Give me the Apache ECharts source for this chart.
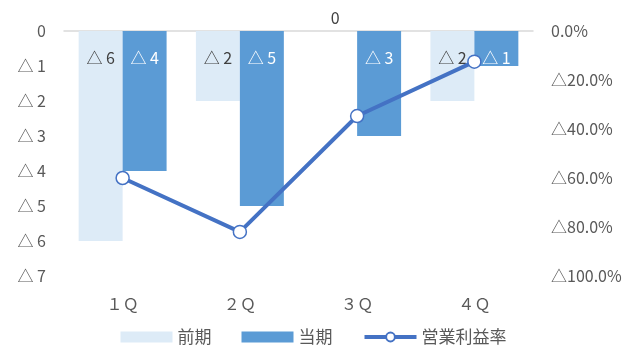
<!DOCTYPE html>
<html>
<head>
<meta charset="utf-8">
<script src="https://cdn.jsdelivr.net/npm/echarts@6/dist/echarts.min.js"></script>
<style>
  html, body { margin: 0; padding: 0; background: #fff; }
  #chart { width: 627px; height: 349px; }
</style>
</head>
<body>
<div id="chart"></div>
<script>
// Quarterly operating result (units) and operating margin
const quarters = ['１Ｑ', '２Ｑ', '３Ｑ', '４Ｑ'];
const prevPeriod = [-6, -2, 0, -2];        // 前期
const currPeriod = [-4, -5, -3, -1];       // 当期
const marginRate = [-0.60, -0.82, -0.347, -0.125]; // 営業利益率

const FONT = '"Noto Sans CJK JP", "Noto Sans", sans-serif';
const TXT = '#595959';

// Negative numbers are written with a leading △
const triNum = v => v === 0 ? '0' : '△ ' + Math.abs(v);
const triPct = v => v === 0 ? '0.0%' : '△' + (Math.abs(v) * 100).toFixed(1) + '%';

function barData(values, labelColor) {
  return values.map(v => ({
    value: v,
    label: v === 0
      ? { position: 'top', distance: 5, color: '#404040' }
      : { position: 'insideTop', distance: 19, color: labelColor }
  }));
}

const chart = echarts.init(document.getElementById('chart'));
chart.setOption({
  animation: false,
  textStyle: { fontFamily: FONT },
  grid: { left: 64, right: 94, top: 31, bottom: 73 },
  legend: {
    top: 327,
    left: 'center',
    itemGap: 30,
    itemWidth: 52,
    itemHeight: 11,
    padding: 0,
    textStyle: { color: TXT, fontSize: 17, fontFamily: FONT, lineHeight: 20 },
    data: [
      { name: '前期', icon: 'rect' },
      { name: '当期', icon: 'rect' },
      { name: '営業利益率', lineStyle: { width: 4 } }
    ]
  },
  xAxis: [
    {
      type: 'category',
      data: quarters,
      position: 'top',
      axisLine: { show: true, onZero: false, lineStyle: { color: '#d9d9d9', width: 1.5 } },
      axisTick: { show: false },
      axisLabel: { show: false }
    },
    {
      type: 'category',
      data: quarters,
      position: 'bottom',
      axisLine: { show: false },
      axisTick: { show: false },
      axisLabel: { color: TXT, fontSize: 16, margin: 20, fontFamily: FONT }
    }
  ],
  yAxis: [
    {
      type: 'value',
      min: -7, max: 0, interval: 1,
      axisLine: { show: false },
      axisTick: { show: false },
      splitLine: { show: false },
      axisLabel: { color: TXT, fontSize: 16, margin: 18, formatter: triNum, fontFamily: FONT }
    },
    {
      type: 'value',
      min: -1, max: 0, interval: 0.2,
      position: 'right',
      axisLine: { show: false },
      axisTick: { show: false },
      splitLine: { show: false },
      axisLabel: { color: TXT, fontSize: 16, margin: 18, formatter: triPct, fontFamily: FONT }
    }
  ],
  series: [
    {
      name: '前期',
      type: 'bar',
      xAxisIndex: 0,
      yAxisIndex: 0,
      barGap: '0%',
      barCategoryGap: '25%',
      itemStyle: { color: '#ddebf7' },
      label: {
        show: true, fontSize: 16, fontFamily: FONT,
        formatter: p => triNum(p.value)
      },
      data: barData(prevPeriod, '#404040')
    },
    {
      name: '当期',
      type: 'bar',
      xAxisIndex: 0,
      yAxisIndex: 0,
      itemStyle: { color: '#5b9bd5' },
      label: {
        show: true, fontSize: 16, fontFamily: FONT,
        formatter: p => triNum(p.value)
      },
      data: barData(currPeriod, '#ffffff')
    },
    {
      name: '営業利益率',
      type: 'line',
      xAxisIndex: 0,
      yAxisIndex: 1,
      symbol: 'circle',
      symbolSize: 13,
      lineStyle: { color: '#4472c4', width: 4 },
      itemStyle: { color: '#ffffff', borderColor: '#4472c4', borderWidth: 1.5 },
      data: marginRate,
      z: 5
    }
  ]
});
</script>
</body>
</html>
